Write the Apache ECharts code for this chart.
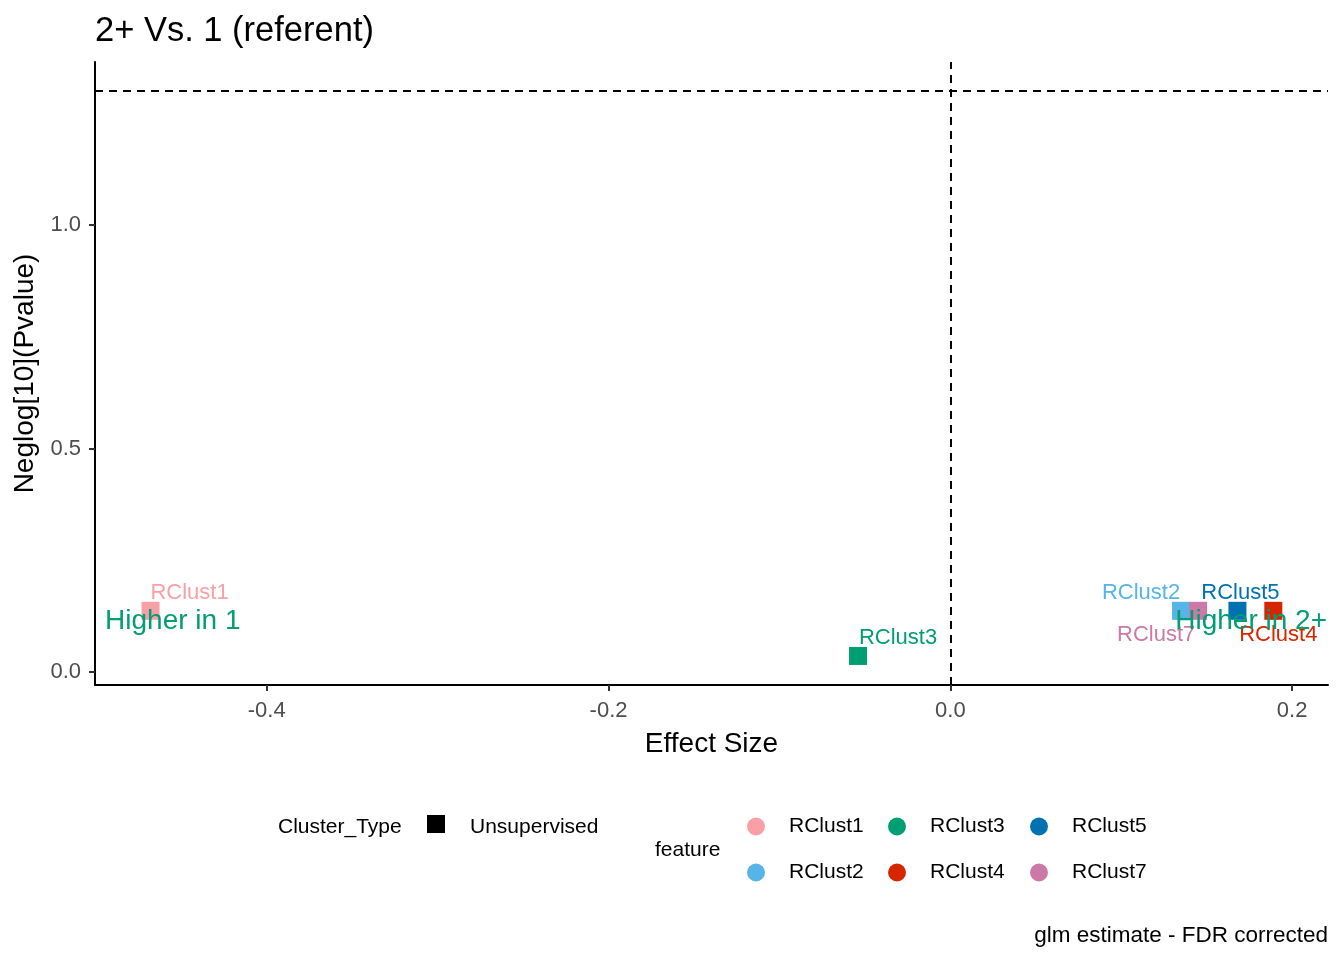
<!DOCTYPE html>
<html>
<head>
<meta charset="utf-8">
<script src="https://cdn.jsdelivr.net/npm/echarts@6/dist/echarts.min.js"></script>
<style>html,body{margin:0;padding:0;background:#fff}#c{width:1344px;height:960px}</style>
</head>
<body>
<div id="c"></div>
<script>
// ---- data ----
const features = ['RClust1', 'RClust2', 'RClust3', 'RClust4', 'RClust5', 'RClust7'];
const effectSize = [-0.468, 0.135, -0.054, 0.189, 0.168, 0.145];
const neglogP = [0.137, 0.137, 0.036, 0.137, 0.137, 0.137];
const annoText = ['Higher in 1', 'Higher in 2+'];
const annoX = [-0.455, 0.176];
const annoY = [0.114, 0.114];
const xTicks = [-0.4, -0.2, 0.0, 0.2];
const yTicks = [0.0, 0.5, 1.0];
const sigLine = 1.301; // -log10(0.05)

// ---- style ----
const colors = {RClust1:'#F8A0A6', RClust2:'#56B4E9', RClust3:'#009E73', RClust4:'#D62600', RClust5:'#0072B2', RClust7:'#CC79A7'};
const labelOffsets = {RClust1:[39,-18], RClust2:[-40,-18], RClust3:[40,-18], RClust4:[5,24], RClust5:[3,-18], RClust7:[-42,24]};
const FONT = '"Liberation Sans", Arial, sans-serif';
const SYM = 18;

const series = features.map((f, i) => ({
  name: f,
  type: 'scatter',
  symbol: 'rect',
  symbolSize: SYM,
  z: 2,
  itemStyle: {color: colors[f], opacity: 1},
  label: {
    show: true, formatter: f,
    position: [SYM / 2 + labelOffsets[f][0], SYM / 2 + labelOffsets[f][1]],
    color: colors[f], fontSize: 22, fontFamily: FONT, align: 'center', verticalAlign: 'middle',
    textBorderWidth: 0
  },
  labelLayout: {hideOverlap: false},
  data: [[effectSize[i], neglogP[i]]]
}));

series.push({
  name: 'annotations', type: 'scatter', symbolSize: 2, z: 5, silent: true,
  itemStyle: {opacity: 0},
  label: {
    show: true, position: [1, 1], formatter: p => p.name,
    color: '#009E73', fontSize: 28, fontFamily: FONT, align: 'center', verticalAlign: 'middle',
    textBorderWidth: 0, opacity: 1
  },
  labelLayout: {hideOverlap: false},
  data: annoText.map((t, i) => ({name: t, value: [annoX[i], annoY[i]]}))
});

series.push({
  name: 'refLines', type: 'line', data: [], silent: true,
  markLine: {
    silent: true, symbol: 'none', label: {show: false},
    lineStyle: {color: '#000', type: [8, 6], width: 2},
    data: [{xAxis: 0}, {yAxis: sigLine}]
  }
});

const legendCols = [[features[0], features[1]], [features[2], features[3]], [features[4], features[5]]];
const colCenters = [755, 896, 1038];
const legends = legendCols.map((d, i) => ({
  data: d, orient: 'vertical', left: colCenters[i] - 13, top: 811,
  itemWidth: 56, itemHeight: 18, itemGap: 25, icon: 'circle', selectedMode: false,
  textStyle: {fontSize: 21, fontFamily: FONT, color: '#000'}
}));

const chart = echarts.init(document.getElementById('c'), null, {renderer: 'canvas'});
chart.setOption({
  backgroundColor: '#fff',
  animation: false,
  color: features.map(f => colors[f]),
  title: {text: '2+ Vs. 1 (referent)', left: 90, top: 9,
    textStyle: {fontSize: 34.5, fontWeight: 'normal', color: '#000', fontFamily: FONT}},
  grid: {left: 95, right: 16, top: 62, bottom: 275, containLabel: false, outerBoundsMode: 'none'},
  legend: legends,
  xAxis: {
    type: 'value', min: -0.5005, max: 0.221,
    name: 'Effect Size', nameLocation: 'middle', nameGap: 45,
    nameTextStyle: {fontSize: 28, color: '#000', fontFamily: FONT},
    axisLine: {show: true, onZero: false, lineStyle: {color: '#000', width: 2}},
    axisTick: {show: true, length: 6, customValues: xTicks, lineStyle: {color: '#333', width: 2}},
    axisLabel: {customValues: xTicks, margin: 15, fontSize: 22, color: '#4D4D4D', fontFamily: FONT,
      formatter: v => v.toFixed(1)},
    splitLine: {show: false}
  },
  yAxis: {
    type: 'value', min: -0.029, max: 1.365,
    name: 'Neglog[10](Pvalue)', nameLocation: 'middle', nameGap: 50,
    nameTextStyle: {fontSize: 28, color: '#000', fontFamily: FONT},
    axisLine: {show: true, onZero: false, lineStyle: {color: '#000', width: 2}},
    axisTick: {show: true, length: 6, customValues: yTicks, lineStyle: {color: '#333', width: 2}},
    axisLabel: {customValues: yTicks, margin: 14, fontSize: 22, color: '#4D4D4D', fontFamily: FONT,
      formatter: v => v.toFixed(1)},
    splitLine: {show: false}
  },
  graphic: [
    {type: 'text', left: 278, top: 817, style: {text: 'Cluster_Type', font: '21px ' + FONT, fill: '#000'}},
    {type: 'rect', shape: {x: 427, y: 815, width: 18, height: 18}, style: {fill: '#000'}},
    {type: 'text', left: 470, top: 817, style: {text: 'Unsupervised', font: '21px ' + FONT, fill: '#000'}},
    {type: 'text', left: 655, top: 840, style: {text: 'feature', font: '21px ' + FONT, fill: '#000'}},
    {type: 'text', right: 16, top: 924, style: {text: 'glm estimate - FDR corrected', font: '22.5px ' + FONT, fill: '#000'}}
  ],
  series: series
});
</script>
</body>
</html>
